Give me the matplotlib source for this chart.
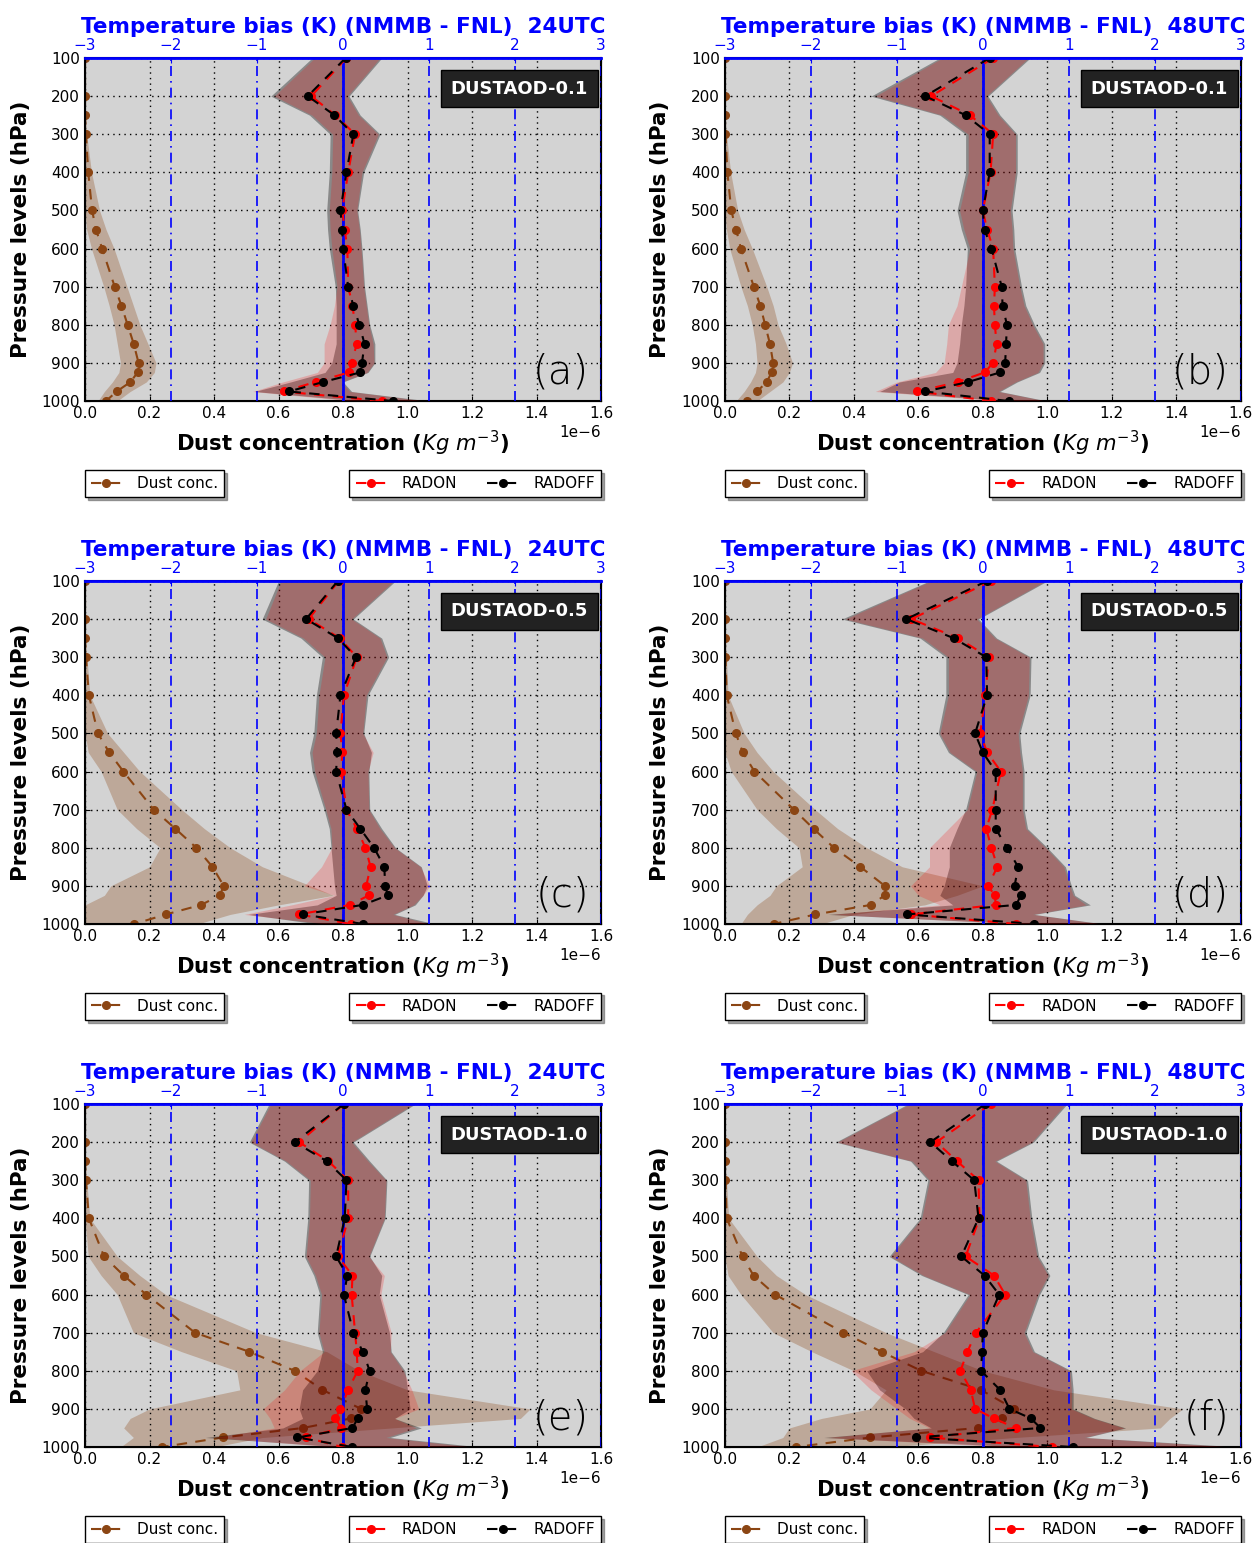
import matplotlib
matplotlib.use("Agg")
import matplotlib.pyplot as plt
import numpy as np

plt.rcParams['font.family'] = ['DejaVu Sans']
plt.rcParams['xtick.direction'] = 'in'
plt.rcParams['ytick.direction'] = 'in'

# pressure levels (hPa)
levels = [100, 200, 250, 300, 400, 500, 550, 600, 700, 750, 800, 850, 900, 925, 950, 975, 1000]

# ---- (a) DUSTAOD-0.1, 24UTC
radoff_a = [0.03, -0.41, -0.10, 0.12, 0.04, -0.03, -0.01, 0.00, 0.06, 0.12, 0.19, 0.25, 0.22, 0.20, -0.23, -0.63, 0.58]
radon_a = [0.04, -0.37, -0.09, 0.14, 0.06, -0.01, 0.02, 0.05, 0.06, 0.11, 0.14, 0.16, 0.10, 0.07, -0.32, -0.69, 0.45]
radoff_lo_a = [-0.36, -0.84, -0.39, -0.15, -0.16, -0.19, -0.18, -0.16, -0.09, -0.08, -0.08, -0.08, -0.13, -0.21, -0.61, -1.03, 0.2]
radoff_hi_a = [0.45, 0.07, 0.20, 0.43, 0.24, 0.17, 0.20, 0.22, 0.25, 0.28, 0.31, 0.37, 0.37, 0.29, 0.0, 0.1, 1.0]
radon_lo_a = [-0.33, -0.80, -0.36, -0.12, -0.13, -0.16, -0.15, -0.13, -0.07, -0.10, -0.15, -0.22, -0.22, -0.30, -0.70, -1.05, 0.1]
radon_hi_a = [0.43, 0.05, 0.18, 0.41, 0.22, 0.16, 0.19, 0.21, 0.24, 0.27, 0.30, 0.35, 0.36, 0.28, -0.02, 0.08, 0.95]
dust_a = [0.0, 0.0, 0.0, 0.003, 0.01, 0.022, 0.034, 0.053, 0.092, 0.113, 0.132, 0.151, 0.166, 0.163, 0.141, 0.098, 0.065]
dust_lo_a = [0, 0, 0, 0, 0, 0.0, 0.005, 0.02, 0.058, 0.075, 0.09, 0.10, 0.11, 0.105, 0.085, 0.06, 0.04]
dust_hi_a = [0, 0, 0, 0.005, 0.02, 0.045, 0.065, 0.09, 0.13, 0.15, 0.17, 0.195, 0.22, 0.215, 0.19, 0.14, 0.10]

# ---- (b) DUSTAOD-0.1, 48UTC
radoff_b = [0.08, -0.67, -0.20, 0.08, 0.08, 0.0, 0.02, 0.10, 0.22, 0.23, 0.28, 0.27, 0.26, 0.20, -0.17, -0.67, 0.3]
radon_b = [0.12, -0.60, -0.15, 0.12, 0.09, 0.0, 0.05, 0.12, 0.14, 0.13, 0.14, 0.16, 0.12, 0.02, -0.29, -0.76, 0.1]
radoff_lo_b = [-0.5, -1.3, -0.5, -0.2, -0.2, -0.3, -0.25, -0.18, -0.2, -0.22, -0.25, -0.27, -0.3, -0.35, -0.97, -1.2, 0.3]
radoff_hi_b = [0.55, 0.06, 0.2, 0.4, 0.4, 0.34, 0.36, 0.37, 0.45, 0.5, 0.6, 0.72, 0.72, 0.66, 0.4, 0.2, 0.75]
radon_lo_b = [-0.47, -1.25, -0.47, -0.17, -0.17, -0.27, -0.22, -0.15, -0.25, -0.3, -0.4, -0.42, -0.45, -0.55, -1.0, -1.25, 0.2]
radon_hi_b = [0.53, 0.04, 0.18, 0.38, 0.38, 0.32, 0.34, 0.35, 0.43, 0.48, 0.58, 0.70, 0.70, 0.64, 0.38, 0.18, 0.73]
dust_b = [0, 0, 0, 0.002, 0.008, 0.02, 0.035, 0.05, 0.09, 0.11, 0.125, 0.14, 0.15, 0.145, 0.13, 0.1, 0.07]
dust_lo_b = [0, 0, 0, 0, 0, 0, 0.005, 0.015, 0.05, 0.07, 0.085, 0.095, 0.1, 0.095, 0.08, 0.06, 0.035]
dust_hi_b = [0, 0, 0, 0.005, 0.018, 0.04, 0.06, 0.085, 0.13, 0.15, 0.165, 0.19, 0.21, 0.2, 0.18, 0.14, 0.1]

# ---- (c) DUSTAOD-0.5, 24UTC
radoff_c = [-0.06, -0.43, -0.06, 0.15, -0.03, -0.08, -0.07, -0.08, 0.04, 0.20, 0.36, 0.48, 0.49, 0.52, 0.23, -0.47, 0.23]
radon_c = [-0.05, -0.40, -0.04, 0.16, 0.01, -0.03, -0.01, -0.02, 0.04, 0.16, 0.26, 0.32, 0.27, 0.30, 0.08, -0.51, 0.09]
radoff_lo_c = [-0.75, -0.94, -0.49, -0.24, -0.31, -0.34, -0.39, -0.36, -0.22, -0.16, -0.14, -0.12, -0.10, -0.08, -0.30, -1.10, -0.3]
radoff_hi_c = [0.61, 0.12, 0.45, 0.53, 0.29, 0.24, 0.33, 0.30, 0.31, 0.45, 0.61, 0.91, 0.98, 0.93, 0.84, 0.6, 1.07]
radon_lo_c = [-0.72, -0.90, -0.46, -0.21, -0.28, -0.31, -0.36, -0.33, -0.20, -0.14, -0.13, -0.25, -0.45, -0.10, -0.6, -1.15, -0.2]
radon_hi_c = [0.59, 0.10, 0.43, 0.51, 0.27, 0.23, 0.35, 0.29, 0.30, 0.43, 0.60, 0.90, 1.01, 0.93, 0.82, 0.58, 1.0]
dust_c = [0, 0, 0, 0.003, 0.012, 0.04, 0.075, 0.119, 0.213, 0.28, 0.345, 0.395, 0.43, 0.418, 0.36, 0.251, 0.153]
dust_lo_c = [0, 0, 0, 0, 0, 0.0, 0.01, 0.05, 0.10, 0.16, 0.233, 0.20, 0.08, 0.06, 0.0, 0.0, 0.0]
dust_hi_c = [0, 0, 0, 0.006, 0.015, 0.07, 0.12, 0.17, 0.30, 0.37, 0.45, 0.55, 0.70, 0.77, 0.6, 0.45, 0.35]

# ---- (d) DUSTAOD-0.5, 48UTC
radoff_d = [0.05, -0.89, -0.34, 0.04, 0.05, -0.09, 0.0, 0.15, 0.15, 0.15, 0.28, 0.41, 0.37, 0.44, 0.39, -0.88, 0.6]
radon_d = [0.1, -0.83, -0.29, 0.07, 0.03, -0.03, 0.05, 0.21, 0.11, 0.04, 0.10, 0.17, 0.06, 0.14, 0.15, -0.84, 0.39]
radoff_lo_d = [-0.62, -1.64, -0.73, -0.43, -0.43, -0.52, -0.4, -0.09, -0.2, -0.3, -0.39, -0.39, -0.45, -0.5, -0.35, -1.8, 0.5]
radoff_hi_d = [0.75, -0.05, 0.16, 0.56, 0.55, 0.43, 0.45, 0.48, 0.48, 0.52, 0.75, 0.96, 1.03, 1.07, 1.25, 0.6, 1.4]
radon_lo_d = [-0.6, -1.6, -0.7, -0.4, -0.4, -0.5, -0.38, -0.07, -0.18, -0.4, -0.62, -0.62, -0.84, -0.75, -0.5, -1.75, 0.4]
radon_hi_d = [0.73, -0.07, 0.14, 0.54, 0.53, 0.41, 0.43, 0.46, 0.46, 0.50, 0.73, 0.94, 1.01, 1.05, 1.2, 0.58, 1.38]
dust_d = [0, 0, 0, 0.002, 0.006, 0.034, 0.056, 0.092, 0.214, 0.275, 0.338, 0.42, 0.496, 0.496, 0.453, 0.281, 0.152]
dust_lo_d = [0, 0, 0, 0, 0, 0, 0, 0.02, 0.10, 0.16, 0.23, 0.24, 0.16, 0.14, 0.10, 0.07, 0.05]
dust_hi_d = [0, 0, 0, 0.005, 0.01, 0.06, 0.10, 0.15, 0.28, 0.35, 0.44, 0.55, 0.80, 0.72, 0.62, 0.4, 0.3]

# ---- (e) DUSTAOD-1.0, 24UTC
radoff_e = [0.01, -0.56, -0.19, 0.04, 0.02, -0.08, 0.05, 0.01, 0.12, 0.23, 0.31, 0.26, 0.28, 0.17, 0.11, -0.53, 0.11]
radon_e = [0.01, -0.51, -0.17, 0.06, 0.06, -0.06, 0.11, 0.10, 0.14, 0.16, 0.17, 0.06, -0.03, -0.09, -0.02, -0.43, -0.01]
radoff_lo_e = [-0.86, -1.09, -0.68, -0.40, -0.41, -0.45, -0.34, -0.27, -0.30, -0.24, -0.3, -0.47, -0.51, -0.47, -0.7, -1.6, 0.0]
radoff_hi_e = [0.84, 0.12, 0.31, 0.51, 0.49, 0.31, 0.45, 0.42, 0.54, 0.56, 0.72, 0.75, 0.78, 0.6, 0.91, 0.55, 1.6]
radon_lo_e = [-0.84, -1.07, -0.66, -0.38, -0.39, -0.43, -0.32, -0.25, -0.28, -0.22, -0.50, -0.68, -0.93, -0.85, -0.8, -1.5, -0.1]
radon_hi_e = [0.82, 0.10, 0.29, 0.50, 0.48, 0.30, 0.48, 0.44, 0.56, 0.55, 0.70, 0.80, 0.88, 0.6, 0.85, 0.5, 1.5]
dust_e = [0, 0, 0, 0.003, 0.012, 0.059, 0.12, 0.19, 0.341, 0.509, 0.65, 0.736, 0.856, 0.824, 0.676, 0.427, 0.239]
dust_lo_e = [0, 0, 0, 0, 0, 0.01, 0.05, 0.10, 0.15, 0.30, 0.47, 0.48, 0.20, 0.14, 0.12, 0.15, 0.11]
dust_hi_e = [0, 0, 0, 0.005, 0.015, 0.10, 0.17, 0.25, 0.53, 0.75, 0.85, 1.0, 1.38, 1.35, 0.95, 0.55, 0.4]

# ---- (f) DUSTAOD-1.0, 48UTC
radoff_f = [0.03, -0.61, -0.36, -0.10, -0.05, -0.25, 0.02, 0.19, 0.0, -0.01, -0.02, 0.20, 0.31, 0.56, 0.67, -0.78, 1.05]
radon_f = [0.09, -0.54, -0.30, -0.05, -0.04, -0.20, 0.13, 0.26, -0.08, -0.18, -0.26, -0.14, -0.09, 0.13, 0.38, -0.62, 0.8]
radoff_lo_f = [-0.87, -1.71, -0.84, -0.64, -0.73, -1.09, -0.71, -0.17, -0.46, -0.7, -1.35, -1.2, -0.9, -0.8, -0.6, -1.85, 0.5]
radoff_hi_f = [0.98, 0.59, 0.16, 0.52, 0.57, 0.65, 0.78, 0.66, 0.5, 0.6, 1.03, 1.05, 1.05, 1.3, 1.66, 1.2, 3.0]
radon_lo_f = [-0.85, -1.69, -0.82, -0.62, -0.71, -1.07, -0.69, -0.15, -0.44, -0.8, -1.53, -1.3, -1.0, -0.85, -0.62, -1.8, 0.3]
radon_hi_f = [0.96, 0.57, 0.14, 0.50, 0.55, 0.63, 0.76, 0.64, 0.48, 0.58, 1.01, 1.03, 1.03, 1.28, 1.64, 1.18, 2.9]
dust_f = [0, 0, 0, 0.002, 0.006, 0.055, 0.089, 0.156, 0.368, 0.486, 0.609, 0.794, 0.897, 0.861, 0.784, 0.451, 0.22]
dust_lo_f = [0, 0, 0, 0, 0, 0, 0.01, 0.05, 0.15, 0.27, 0.40, 0.5, 0.45, 0.3, 0.2, 0.18, 0.1]
dust_hi_f = [0, 0, 0, 0.005, 0.012, 0.10, 0.16, 0.25, 0.5, 0.65, 0.8, 1.02, 1.42, 1.38, 1.35, 0.9, 0.5]

panels = [
    ('a', 'DUSTAOD-0.1', '24UTC', radoff_a, radon_a, radoff_lo_a, radoff_hi_a, radon_lo_a, radon_hi_a, dust_a, dust_lo_a, dust_hi_a),
    ('b', 'DUSTAOD-0.1', '48UTC', radoff_b, radon_b, radoff_lo_b, radoff_hi_b, radon_lo_b, radon_hi_b, dust_b, dust_lo_b, dust_hi_b),
    ('c', 'DUSTAOD-0.5', '24UTC', radoff_c, radon_c, radoff_lo_c, radoff_hi_c, radon_lo_c, radon_hi_c, dust_c, dust_lo_c, dust_hi_c),
    ('d', 'DUSTAOD-0.5', '48UTC', radoff_d, radon_d, radoff_lo_d, radoff_hi_d, radon_lo_d, radon_hi_d, dust_d, dust_lo_d, dust_hi_d),
    ('e', 'DUSTAOD-1.0', '24UTC', radoff_e, radon_e, radoff_lo_e, radoff_hi_e, radon_lo_e, radon_hi_e, dust_e, dust_lo_e, dust_hi_e),
    ('f', 'DUSTAOD-1.0', '48UTC', radoff_f, radon_f, radoff_lo_f, radoff_hi_f, radon_lo_f, radon_hi_f, dust_f, dust_lo_f, dust_hi_f),
]

fig = plt.figure(figsize=(12.54, 15.43), dpi=100)

lefts = [0.0678, 0.578]
bottoms = [0.7401, 0.4012, 0.0622]
w, h = 0.4115, 0.2223
dash = (5, 4)

for i, p in enumerate(panels):
    letter, aod, utc, roff, ron, rofflo, roffhi, ronlo, ronhi, dust, dlo, dhi = p
    ax = fig.add_axes([lefts[i % 2], bottoms[i // 2], w, h])
    ax.set_facecolor('lightgray')

    # dust concentration (bottom axis)
    d = np.array(dust) * 1e-6
    ax.fill_betweenx(levels, np.array(dlo) * 1e-6, np.array(dhi) * 1e-6,
                     color='saddlebrown', alpha=0.3, lw=0)
    ld, = ax.plot(d, levels, '--o', color='saddlebrown', lw=1.5, ms=5.5,
                  mec='saddlebrown', dashes=dash, label='Dust conc.')
    ax.set_xlim(0, 1.6e-6)
    ax.set_ylim(1000, 100)
    ax.set_yticks(range(100, 1001, 100))
    ax.set_xticks(np.arange(0, 1.61e-6, 0.2e-6))
    ax.grid(True, color='black', linestyle=(0, (1, 3)), lw=1)
    ax.tick_params(labelsize=11)
    ax.xaxis.get_offset_text().set_fontsize(11)
    ax.set_xlabel(r'Dust concentration $\mathbf{(}Kg\ m^{-3}\mathbf{)}$', fontsize=15.2,
                  fontweight='bold', labelpad=6)
    ax.set_ylabel('Pressure levels (hPa)', fontsize=15.5, fontweight='bold', labelpad=8)
    for s in ax.spines.values():
        s.set_linewidth(1.5)

    # temperature bias (top axis)
    ax2 = ax.twiny()
    ax2.fill_betweenx(levels, rofflo, roffhi, color='black', alpha=0.35, lw=0)
    ax2.fill_betweenx(levels, ronlo, ronhi, color='red', alpha=0.2, lw=0)
    ax2.axvline(0, color='blue', lw=2)
    l1, = ax2.plot(ron, levels, '--o', color='red', lw=1.5, ms=5.5, mec='red',
                   dashes=dash, label='RADON')
    l2, = ax2.plot(roff, levels, '--o', color='black', lw=1.5, ms=5.5, mec='black',
                   dashes=dash, label='RADOFF')
    ax2.set_xlim(-3, 3)
    ax2.set_ylim(1000, 100)
    ax2.set_xticks(range(-3, 4))
    ax2.xaxis.grid(True, color='blue', linestyle=(0, (6, 3, 1, 3)), lw=1.2)
    ax2.tick_params(axis='x', labelsize=11, colors='blue')
    ax2.spines['top'].set_color('blue')
    ax2.spines['top'].set_linewidth(2)
    ax2.set_xlabel('Temperature bias (K) (NMMB - FNL)  ' + utc, color='blue',
                   fontsize=15.5, fontweight='bold', labelpad=4)

    ax2.text(0.975, 0.911, aod, transform=ax2.transAxes, ha='right', va='center',
             color='white', fontsize=13, fontweight='bold',
             bbox=dict(facecolor='#222222', edgecolor='black', pad=7))
    ax2.text(0.977, 0.085, '(' + letter + ')', transform=ax2.transAxes,
             ha='right', va='center', fontsize=29, fontweight='light')

    leg1 = ax2.legend(handles=[ld], loc='center left', bbox_to_anchor=(0, -0.24),
                      fontsize=11, numpoints=1, shadow=True, fancybox=False,
                      framealpha=1, edgecolor='black', handletextpad=1.0,
                      borderaxespad=0)
    ax2.add_artist(leg1)
    ax2.legend(handles=[l1, l2], loc='center right', bbox_to_anchor=(1, -0.24),
               ncol=2, fontsize=11, numpoints=1, shadow=True, fancybox=False,
               framealpha=1, edgecolor='black', handletextpad=1.0,
               borderaxespad=0)

fig.savefig('out.png', dpi=100)
